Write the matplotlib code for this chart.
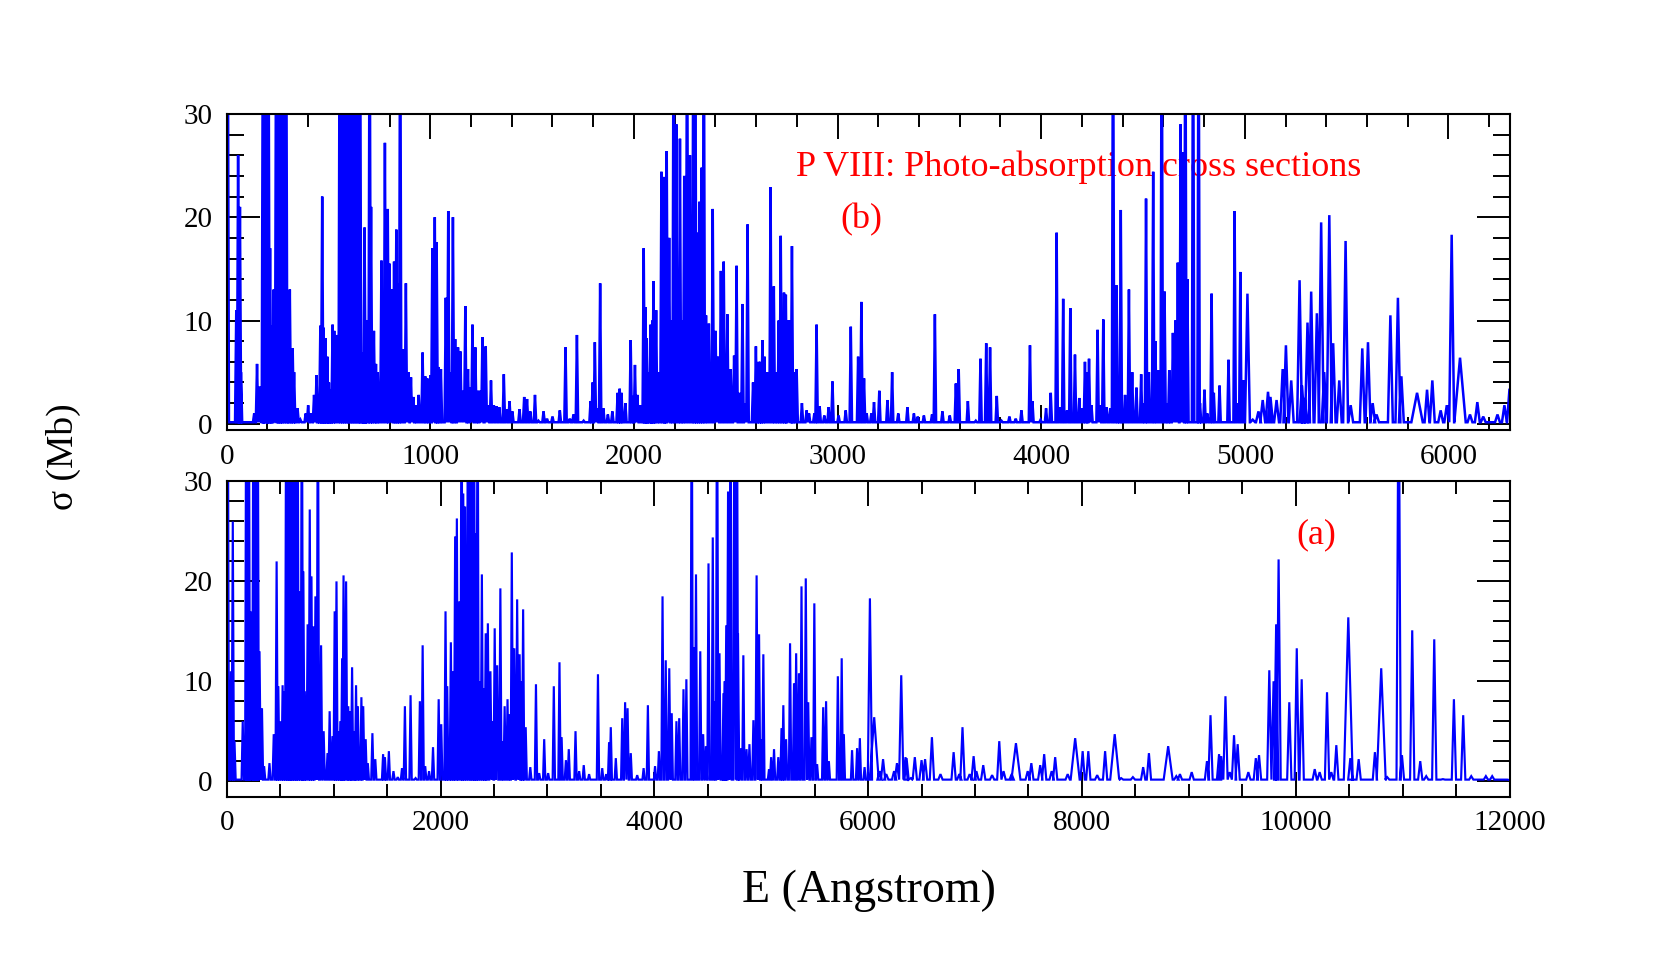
import numpy as np
import matplotlib
matplotlib.use("Agg")
import matplotlib.pyplot as plt
from matplotlib.ticker import MultipleLocator

# peak positions (Angstrom) and heights (Mb), 45 = runs off the top
e_b = [5, 47, 56, 65, 70, 135, 149, 161, 173, 178, 187, 196, 205, 213, 222, 231, 243, 252, 261, 270, 279, 292, 301, 310,
       324, 331, 348, 362, 388, 400, 415, 429, 441, 450, 460, 469, 476, 485, 494, 502, 509, 520, 528, 541,
       555, 565, 575, 585, 595, 605, 615, 625, 635, 645, 655, 663, 674, 677, 686, 702, 709, 723, 733, 742,
       760, 777, 791, 800, 812, 822, 833, 842, 852, 866, 880, 892, 905, 917, 927, 943, 962, 975, 985,
       1001, 1010, 1022, 1031, 1041, 1052, 1076, 1088, 1100, 1111, 1122, 1136, 1148, 1160, 1172, 1185, 1195,
       1207, 1221, 1234, 1244, 1256, 1272, 1284, 1298, 1312, 1325, 1339, 1361, 1374, 1389, 1403, 1438, 1461,
       1475, 1491, 1514, 1531, 1556, 1573, 1600, 1636, 1664, 1685, 1703, 1720, 1753, 1787, 1797, 1808, 1820,
       1834, 1850, 1872, 1894, 1920, 1930, 1939, 1958, 1984, 1995, 2005, 2017, 2033, 2048, 2056, 2063, 2072,
       2082, 2091, 2096, 2109, 2119, 2135, 2146, 2156, 2161, 2173, 2184, 2195, 2208, 2226, 2236, 2247, 2261,
       2275, 2292, 2301, 2312, 2322, 2333, 2343, 2354, 2368, 2387, 2401, 2413, 2427, 2441, 2459, 2475, 2492,
       2504, 2518, 2533, 2546, 2558, 2585, 2599, 2613, 2620, 2631, 2641, 2655, 2671, 2687, 2697, 2711, 2721,
       2737, 2746, 2755, 2767, 2776, 2785, 2799, 2825, 2848, 2860, 2886, 2897, 2912, 2935, 2956, 2975, 3005,
       3040, 3065, 3101, 3117, 3130, 3143, 3166, 3179, 3205, 3245, 3268, 3298, 3343, 3375, 3394, 3424, 3464,
       3478, 3515, 3551, 3581, 3595, 3640, 3679, 3702, 3730, 3749, 3782, 3805, 3844, 3875, 3903, 3945, 3957,
       3997, 4024, 4047, 4076, 4092, 4108, 4127, 4143, 4166, 4187, 4202, 4215, 4225, 4235, 4247, 4277, 4289,
       4305, 4321, 4339, 4353, 4370, 4381, 4391, 4412, 4431, 4447, 4468, 4491, 4505, 4515, 4529, 4550, 4561,
       4575, 4592, 4606, 4619, 4629, 4647, 4659, 4671, 4685, 4697, 4708, 4718, 4746, 4773, 4780, 4802, 4816,
       4837, 4848, 4876, 4920, 4950, 4964, 4978, 4993, 5013, 5039, 5067, 5088, 5114, 5126, 5156, 5186, 5202,
       5228, 5269, 5281, 5294, 5308, 5326, 5354, 5375, 5390, 5415, 5434, 5464, 5495, 5520, 5577, 5605, 5628,
       5647, 5715, 5752, 5769, 5846, 5895, 5921, 5962, 5992, 6016, 6057, 6106, 6142, 6171, 6241,
       6275, 6300]
s_b = [45, 11, 26, 21, 5, 1, 5.8, 3.6, 2, 45, 45, 45, 45, 17, 9.5, 13, 45, 45, 45, 45, 45, 45, 6, 13,
       7.3, 5, 1.5, 0.4, 1, 1.8, 1, 2.8, 4.7, 1.5, 9.5, 22, 9.3, 8.3, 6.5, 4, 3.3, 9.6, 9, 8.6,
       45, 45, 45, 45, 45, 45, 45, 45, 45, 45, 45, 6.9, 6, 19, 10, 45, 21, 9, 5.8, 5,
       15.8, 27.2, 20.8, 15.5, 13, 15.7, 18.8, 13.6, 45, 7.2, 13.6, 5, 4.5, 2.6, 1.8, 2.8, 6.9, 4.6, 4.4,
       4.7, 17, 20, 17.6, 5.5, 5.3, 12.2, 20.6, 5, 20, 8.2, 7.4, 7, 3.2, 11.4, 5.3, 3.5,
       9.6, 7.4, 3.2, 3.2, 8.4, 7.5, 1.8, 4.2, 1.8, 1.7, 1.6, 4.8, 1.4, 2.2, 1.2, 1.4, 2.6,
       2.4, 1.2, 2.8, 0.3, 1.2, 0.5, 0.7, 1.3, 7.4, 0.5, 0.9, 8.6, 0.3, 2.2, 4, 7.9, 1.5,
       13.6, 1.5, 0.9, 1.2, 3, 3.4, 3, 2, 8.1, 2.7, 5.7, 2.8, 1.8, 17, 11.3, 8.3, 5,
       9.6, 10, 13.8, 11, 5, 24.4, 23.9, 10, 26.4, 18, 10, 45, 29, 27.6, 10, 24, 45,
       26, 45, 45, 18.5, 21.5, 24.8, 45, 10.5, 9.7, 20.8, 9, 6.5, 14.8, 15.7, 10.6, 5.3, 6.6,
       15.3, 3, 11.6, 2, 19.3, 4, 7.5, 6, 6, 8.1, 6.5, 5, 22.9, 13.3, 5, 10, 18.2,
       12.7, 12.5, 10, 10, 17.2, 5, 5.3, 2, 1.3, 1, 1, 9.6, 1.7, 0.8, 1.6, 4.1, 0.8,
       1.3, 9.4, 6.5, 11.8, 4.4, 1, 1, 2.1, 3.2, 2.3, 5, 1, 1.6, 1, 0.7, 0.8, 0.9,
       10.6, 1.2, 0.8, 3.9, 5.3, 2.2, 0.3, 6.3, 7.8, 7.4, 2.7, 0.3, 0.7, 0.5, 1.3, 7.6, 2.2,
       0.4, 1.5, 3, 18.5, 1.6, 12.1, 1.3, 11.2, 6.7, 2.5, 1.5, 6, 5, 6.3, 1.8, 9.1, 1.8,
       10.1, 1.6, 1.5, 45, 13.4, 4, 20.7, 2.8, 13, 5, 3.5, 4.8, 2, 21.8, 5, 24.4, 8,
       5.2, 45, 12.8, 2, 5.2, 8.8, 10, 15.6, 29, 26.3, 45, 14, 45, 45, 2, 3.3, 1,
       12.6, 3, 3.7, 6.2, 20.6, 2, 14.7, 4.2, 12.6, 0.4, 1.2, 2.3, 3.1, 2.6, 2.3, 5.3, 7.6,
       4.2, 13.9, 3.7, 2.5, 9.8, 12.8, 10.7, 19.5, 5, 20.2, 7.8, 4.2, 17.7, 1.8, 7.3, 7.9, 2,
       0.9, 10.5, 12.2, 4.6, 3, 3.3, 4.2, 1.3, 1.8, 18.3, 6.4, 0.9, 2.1, 0.7, 0.9,
       1.8, 3.4]

e_a = [10, 40, 57, 73, 150, 183, 195, 207, 223, 250, 262, 275, 290, 307, 330, 350, 400, 440, 467, 483, 503, 523, 540,
       557, 575, 592, 610, 628, 645, 663, 677, 703, 717, 730, 757, 777, 793, 810, 830, 853, 883, 907, 943, 963,
       990, 1010, 1027, 1043, 1063, 1080, 1093, 1117, 1137, 1153, 1173, 1190, 1210, 1227, 1260, 1277, 1300, 1320,
       1363, 1390, 1463, 1480, 1517, 1560, 1600, 1640, 1667, 1720, 1767, 1807, 1833, 1857, 1893, 1930, 1983,
       2007, 2047, 2063, 2097, 2113, 2137, 2153, 2177, 2197, 2213, 2230, 2257, 2275, 2295, 2313, 2330, 2347,
       2367, 2387, 2407, 2423, 2443, 2467, 2490, 2507, 2530, 2560, 2580, 2600, 2627, 2647, 2667, 2690, 2717,
       2740, 2757, 2773, 2797, 2840, 2893, 2923, 2970, 3007, 3060, 3113, 3133, 3173, 3200, 3263, 3297, 3340,
       3390, 3473, 3513, 3550, 3577, 3593, 3640, 3700, 3727, 3750, 3780, 3840, 3900, 3940, 4007, 4043, 4077,
       4107, 4140, 4163, 4207, 4233, 4273, 4300, 4350, 4370, 4390, 4430, 4457, 4483, 4507, 4547, 4567, 4587,
       4610, 4647, 4657, 4673, 4690, 4713, 4750, 4773, 4783, 4807, 4833, 4863, 4890, 4927, 4957, 4980, 5000,
       5020, 5073, 5093, 5120, 5160, 5190, 5207, 5233, 5270, 5307, 5327, 5353, 5377, 5417, 5440, 5470, 5497,
       5523, 5580, 5607, 5633, 5717, 5753, 5773, 5850, 5897, 5923, 5967, 6017, 6057, 6107, 6140,
       6170, 6243, 6270, 6310, 6350, 6360, 6400, 6437, 6500, 6533, 6597, 6677, 6800, 6853, 6883, 6950, 6987,
       7013, 7077, 7160, 7227, 7267, 7343, 7383, 7493, 7527, 7610, 7647, 7717, 7750, 7867, 7937, 8007, 8060,
       8143, 8217, 8307, 8367, 8477, 8573, 8627, 8807, 8883, 8917, 9027, 9170, 9203, 9283, 9303, 9343, 9383,
       9423, 9457, 9557, 9627, 9657, 9753, 9793, 9817, 9840, 9940, 10010, 10056, 10178, 10224, 10293, 10333,
       10380, 10492, 10511, 10589, 10741, 10800, 10856, 10963, 10994, 11090, 11165, 11221, 11296, 11377, 11480,
       11567, 11642, 11779, 11838, 12000]
s_a = [45, 11, 26, 4, 6, 45, 45, 45, 17, 45, 45, 45, 45, 13, 7.3, 1.5, 1.8, 4.7, 22, 9.5, 6, 9.6, 9,
       45, 45, 45, 45, 45, 45, 45, 19, 45, 21, 9, 15.7, 27.2, 20.5, 15.5, 18.5, 45, 13.6, 5, 2.8, 7,
       4.5, 17, 20, 5, 6, 12.3, 20.6, 20, 7.5, 7, 11.4, 5, 9.6, 7.5, 8.4, 7.5, 4.2, 1.8,
       4.8, 2.2, 2.7, 2.4, 3, 1, 0.4, 1.3, 7.5, 8.6, 0.3, 8, 13.6, 1.5, 1, 3.4, 8.2,
       5.7, 17, 9.5, 13.9, 11, 24.5, 26.3, 18, 45, 28.8, 27.5, 45, 45, 45, 45, 24.8, 45,
       10, 20.7, 9.3, 14.8, 15.8, 11, 6, 15.3, 11.6, 19.3, 4, 7.5, 8.2, 6.7, 22.9, 13.3, 18.2,
       12.7, 10, 17.2, 5.4, 1.4, 9.7, 0.8, 4.2, 0.8, 9.5, 11.9, 4.4, 2.1, 3.2, 5, 1, 1.6,
       0.7, 10.7, 1.3, 0.7, 3.9, 5.4, 2.3, 6.3, 7.9, 7.3, 2.8, 0.6, 1.3, 7.6, 1.5, 3, 18.5,
       12.1, 11.3, 6.8, 6, 6.3, 9.2, 10.2, 45, 13.4, 20.7, 13, 4.7, 3.5, 21.8, 24.4, 8, 45,
       12.8, 8.8, 10, 15.6, 29, 45, 45, 45, 14.8, 3.3, 12.6, 3.2, 3.7, 6.1, 20.6, 14.7, 4.2,
       12.7, 1.2, 2.4, 3.2, 2.4, 5.3, 7.6, 4.2, 13.8, 9.8, 12.8, 10.8, 19.5, 20.3, 7.9, 4.4, 17.8,
       1.7, 7.4, 8, 2, 10.5, 12.3, 4.7, 3.1, 3.3, 4.3, 1.4, 18.3, 6.4, 1, 2.2,
       0.7, 1, 1.8, 10.6, 2.4, 2.3, 0.3, 2.4, 2.1, 2.2, 4.4, 0.7, 2.9, 0.7, 5.4, 0.7, 2.5,
       1, 1.6, 0.6, 4, 1, 0.7, 3.8, 1, 1.8, 1.6, 2.7, 1, 2.4, 0.7, 4.3, 3, 3,
       0.6, 3, 4.7, 0.3, 0.4, 1.4, 2.8, 3.5, 0.5, 0.7, 0.9, 2, 6.6, 2.7, 2.5, 8.5, 0.9,
       4.6, 3.7, 0.9, 2.3, 2.6, 11.1, 10, 15.7, 22.2, 7.9, 13.3, 10.2, 1.2, 0.9, 8.9, 0.9,
       3.6, 16.4, 2.3, 2.2, 2.9, 11.3, 0.4, 45, 2.6, 15.1, 2, 0.5, 14.2, 0.2, 8.2,
       6.6, 0.5, 0.5, 0.5, 0.1]

# the few peaks that are visibly broader than the rest
broad_b = [6057, 5846]
broad_a = [6057, 7383, 7937, 8307, 8807, 10492, 10800]

xticks_b = [0, 1000, 2000, 3000, 4000, 5000, 6000]
xticks_a = [0, 2000, 4000, 6000, 8000, 10000, 12000]
yticks = [0, 10, 20, 30]

W, H = 1661, 969
SERIF = "Liberation Serif"


def spectrum(e, s, narrow, wide, split, broad, broad_w):
    # each peak gets a foot on both sides so the line comes back down to the floor
    e = np.array(e, dtype=float)
    s = np.array(s, dtype=float)
    w = np.where(e < split, narrow, wide)
    w = np.where(np.isin(e, broad), broad_w, w)
    x = np.column_stack([e - w, e, e + w]).ravel()
    y = np.column_stack([np.full(e.size, 0.15), s, np.full(e.size, 0.15)]).ravel()
    return x, y


def panel(box, e, s, xmax, ymin, xticks, xminor, lw, narrow, wide, split, broad, broad_w):
    left, top, right, bottom = box
    ax = fig.add_axes([left / W, 1 - bottom / H, (right - left) / W, (bottom - top) / H])
    x, y = spectrum(e, s, narrow, wide, split, broad, broad_w)
    ax.plot(x, y, color="#0000ff", lw=lw, solid_joinstyle="miter", zorder=2)
    ax.set_xlim(0, xmax)
    ax.set_ylim(ymin, 30)
    ax.set_xticks(xticks)
    ax.xaxis.set_minor_locator(MultipleLocator(xminor))
    ax.set_yticks(yticks)
    ax.yaxis.set_minor_locator(MultipleLocator(2))
    ax.tick_params(axis="x", which="major", direction="in", top=True, length=18, width=1.4, pad=10)
    ax.tick_params(axis="x", which="minor", direction="in", top=True, length=9.5, width=1.4)
    ax.tick_params(axis="y", which="major", direction="in", right=True, length=24, width=1.4, pad=10)
    ax.tick_params(axis="y", which="minor", direction="in", right=True, length=12, width=1.4)
    for lab in ax.get_xticklabels() + ax.get_yticklabels():
        lab.set_family(SERIF)
        lab.set_fontsize(21)
    for sp in ax.spines.values():
        sp.set_linewidth(1.5)
    return ax


fig = plt.figure(figsize=(W / 100, H / 100), dpi=100)

ax_b = panel((226.7, 113.9, 1509.5, 430), e_b, s_b, 6300, -0.6, xticks_b, 200, 1.8, 6, 12, 5000, broad_b, 28)
ax_a = panel((226.7, 481.5, 1509.5, 796.6), e_a, s_a, 12000, -1.55, xticks_a, 500, 1.55, 11, 20, 6000, broad_a, 42)

ax_b.text(2798, 24.8, "P VIII: Photo-absorption cross sections", color="red", family=SERIF,
          fontsize=26, va="center", ha="left", zorder=1)
ax_b.text(3015, 19.8, "(b)", color="red", family=SERIF, fontsize=26, va="center", ha="left", zorder=1)
ax_a.text(10010, 24.7, "(a)", color="red", family=SERIF, fontsize=26, va="center", ha="left", zorder=1)

fig.text(820 / 1568, 1 - 841 / 915, "E (Angstrom)", family=SERIF, fontsize=33, ha="center", va="center")
fig.text(60 / 1568, 1 - 431 / 915, "σ (Mb)", family=SERIF, fontsize=27, rotation=90, ha="center", va="center")

fig.savefig("out.png", dpi=100)
